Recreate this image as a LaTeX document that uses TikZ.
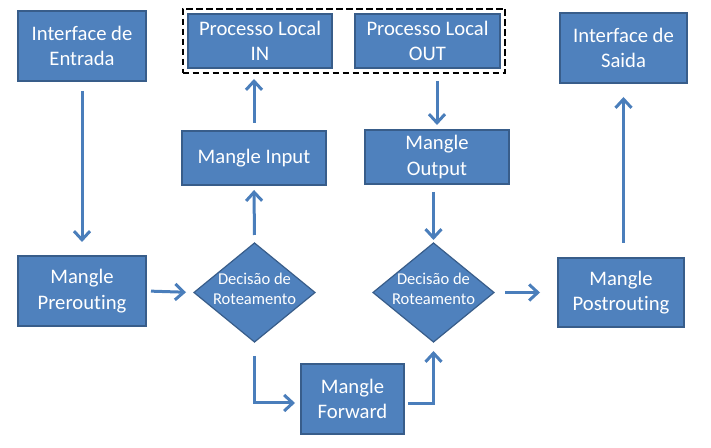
\documentclass[tikz,border=0pt]{standalone}
\usepackage{fontspec}
\setmainfont{Carlito}[Ligatures=NoCommon]
\usepackage{tikz}
\usetikzlibrary{arrows.meta,positioning,fit,calc,shapes.geometric}
\definecolor{boxfill}{HTML}{4F81BD}
\definecolor{boxline}{HTML}{385D8A}
\definecolor{arrline}{HTML}{4A7EBB}

\begin{document}
\begin{tikzpicture}[
  x=0.75pt, y=-0.75pt,
  font=\fontsize{15.5}{19}\selectfont, >={Straight Barb[length=6.5pt,width=12pt]},
  box/.style 2 args={
    draw=boxline, fill=boxfill, line width=0.9pt, text=white,
    minimum width=#1*0.75pt, minimum height=#2*0.75pt,
    align=center, inner sep=1pt, outer sep=0pt
  },
  dec/.style={
    diamond, draw=boxline, fill=boxfill, line width=0.9pt,
    minimum width=90.75pt, minimum height=74.25pt, inner sep=0pt, outer sep=0pt
  },
  dtxt/.style={text=white, font=\fontsize{12.4}{15}\selectfont, align=center, inner sep=0pt},
  grp/.style={draw=black, line width=1.6pt, dash pattern=on 5pt off 2.5pt, inner sep=4pt},
  arr/.style={->, line width=2.25pt, draw=arrline}
]
\useasboundingbox (0,0) rectangle (711,448);

\node[box={128}{70}] (ent) at (82,46) {Interface de\\Entrada};
\node[box={144}{54}] (pin) at (260,41) {Processo Local\\IN};
\node[box={145}{54}] (pout) at (427.5,41) {Processo Local\\OUT};
\node[box={127}{70}] (sai) at (623.5,48) {Interface de\\Saida};

\node[box={144}{54}] (min) at (254,158) {Mangle Input};
\node[box={144}{54}] (mout) at (437,157) {Mangle\\Output};

\node[box={128}{70}] (pre) at (82,291) {Mangle\\Prerouting};
\node[dec] (d1) at (254.5,292.5) {};
\node[dtxt] (d1t) at ([yshift=3pt]d1.center) {Decisão de\\Roteamento};
\node[dec] (d2) at (433.5,292.5) {};
\node[dtxt] (d2t) at ([yshift=3pt]d2.center) {Decisão de\\Roteamento};
\node[box={126}{69}] (post) at (621,292.5) {Mangle\\Postrouting};

\node[box={103}{70}] (fwd) at (352.5,399) {Mangle\\Forward};

\node[grp, fit=(pin)(pout)] (loc) {};

\draw[arr, shorten <=7.5pt, shorten >=10.5pt] (ent.south) -- (pre.north);
\draw[arr, shorten <=3.75pt, shorten >=6pt] (pre.east) -- (d1.west);
\draw[arr, shorten <=6pt, shorten >=3.75pt] (d1.north) -- (min.south);
\draw[arr, shorten <=6pt, shorten >=8.25pt] (min.north) -- (min.north |- pin.south);
\draw[arr, shorten <=9.75pt, shorten >=3.75pt] (mout.north |- pout.south) -- (mout.north);
\draw[arr, shorten <=6pt, shorten >=2.25pt] (d2.north |- mout.south) -- (d2.north);
\draw[arr, shorten <=10.5pt, shorten >=4.5pt] (d1.south) |- ([yshift=-3pt]fwd.west);
\draw[arr, shorten <=3pt, shorten >=6.75pt] ([yshift=-3.5pt]fwd.east) -| (d2.south);
\draw[arr, shorten <=8.25pt, shorten >=13.5pt] (d2.east) -- (post.west);
\draw[arr, shorten <=11.25pt, shorten >=10.5pt] (post.north -| sai.south) -- (sai.south);
\end{tikzpicture}
\end{document}
